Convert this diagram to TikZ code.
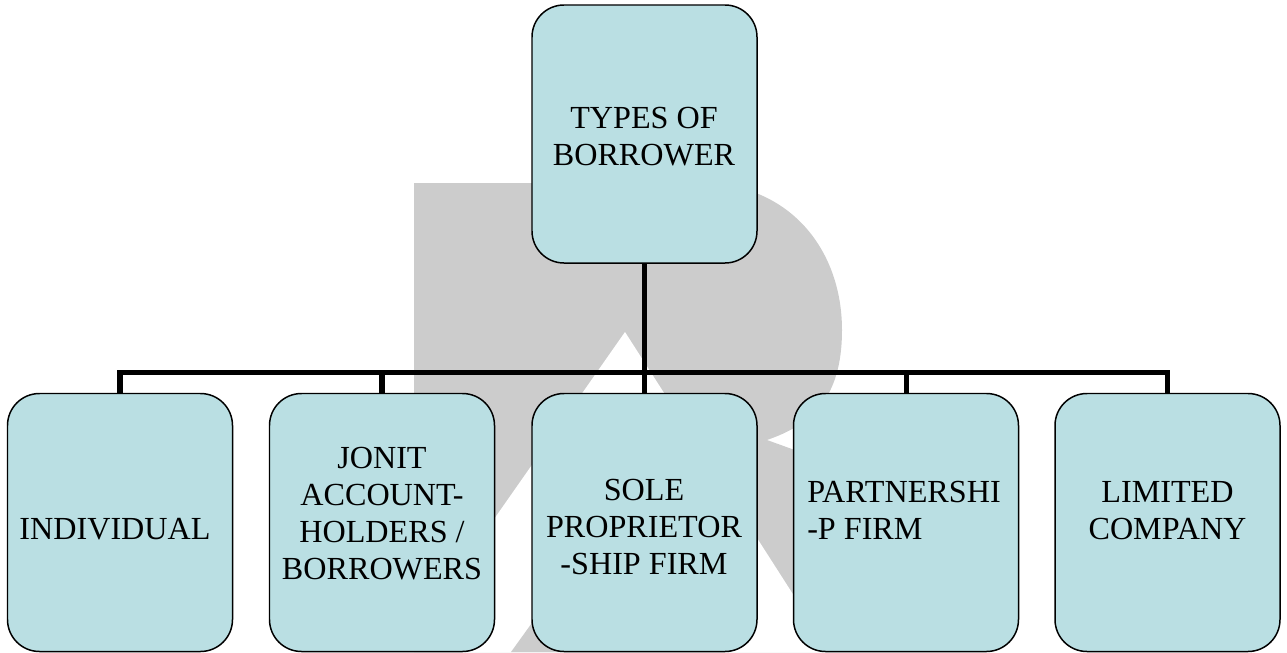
\documentclass[tikz,border=0pt]{standalone}
\usepackage{fontspec}
\setmainfont{Liberation Serif}

\definecolor{boxfill}{RGB}{186,223,227}
\definecolor{markgray}{RGB}{204,204,204}

\begin{document}
\begin{tikzpicture}[x=0.2mm,y=-0.2mm]
\tikzset{
  typebox/.style={rectangle,rounded corners=6.4mm,draw=black,line width=0.85pt,fill=boxfill,minimum width=4.5cm,minimum height=5.16cm,inner sep=0pt},
  boxtext/.style={inner sep=0pt,align=center,font=\fontsize{18.3}{21.2}\selectfont},
  treeedge/.style={draw=black,line width=2.85pt}
}
\useasboundingbox (0,0) rectangle (1287,653);
% watermark behind the tree
\fill[markgray] (414,183) -- (700,183) .. controls (790,183) and (842,250) .. (842,330) .. controls (842,400) and (810,425) .. (767,440) -- (850,470) -- (960,652) -- (414,652) -- cycle;
\fill[white] (625,332) -- (830,652) -- (401,652) -- cycle;
\fill[markgray] (627,491) -- (730,652) -- (511,652) -- cycle;
% boxes
\node[typebox] (root) at (644.5,134) {};
\node[typebox] (indiv) at (120,522.5) {};
\node[typebox] (joint) at (382,522.5) {};
\node[typebox] (sole) at (644.5,522.5) {};
\node[typebox] (partner) at (906,522.5) {};
\node[typebox] (ltd) at (1167.5,522.5) {};
% texts
\node[boxtext] (rootText) at (644,136.5) {TYPES OF\\BORROWER};
\node[boxtext] (indivText) at (115,529.5) {INDIVIDUAL};
\node[boxtext] (jointText) at (382,513.5) {JONIT\\ACCOUNT-\\HOLDERS /\\BORROWERS};
\node[boxtext] (soleText) at (644,527) {SOLE\\PROPRIETOR\\-SHIP FIRM};
\node[boxtext,align=left] (partnerText) at (904,510.5) {PARTNERSHI\\-P FIRM};
\node[boxtext] (ltdText) at (1167.5,510.5) {LIMITED\\COMPANY};
% connectors
\coordinate (bus) at (644.5,372);
\draw[treeedge] (root.south) -- (bus);
\foreach \kid in {indiv,joint,sole,partner,ltd}
  \draw[treeedge] (bus) -| (\kid.north);
\end{tikzpicture}
\end{document}
